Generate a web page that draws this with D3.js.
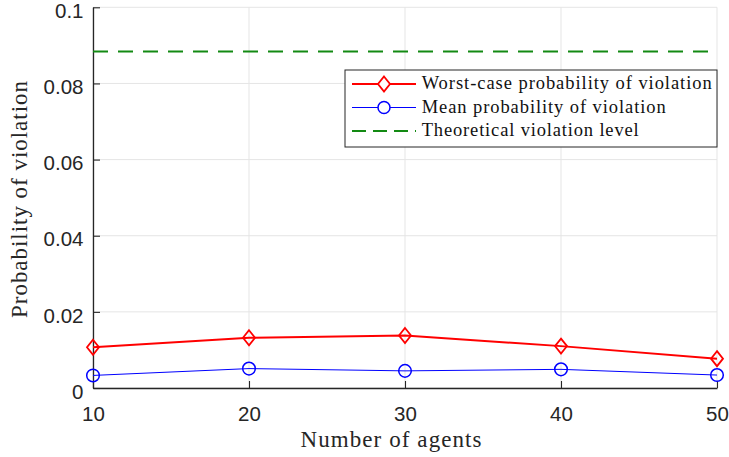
<!DOCTYPE html>
<html>
<head>
<meta charset="utf-8">
<script src="https://cdn.jsdelivr.net/npm/d3@7"></script>
<style>
  html, body { margin: 0; padding: 0; background: #fff; }
  svg { display: block; }
</style>
</head>
<body>
<svg id="chart" width="729" height="457"></svg>
<script>
// Data
const agents = [10, 20, 30, 40, 50];
const worstCase = [0.0107, 0.0132, 0.0138, 0.0110, 0.0077];
const meanProb = [0.0033, 0.0051, 0.0045, 0.0049, 0.0034];
const theoretical = 0.0884;
const xTicks = [10, 20, 30, 40, 50];
const yTicks = [0, 0.02, 0.04, 0.06, 0.08, 0.1];
const yTickLabels = ["0", "0.02", "0.04", "0.06", "0.08", "0.1"];
const legendLabels = ["Worst-case probability of violation", "Mean probability of violation", "Theoretical violation level"];
const legendWidths = [290, 244, 217];

const svg = d3.select("#chart");
const m = { left: 93, right: 12, top: 7.3, bottom: 69 };
const W = 729, H = 457;
const x = d3.scaleLinear().domain([10, 50]).range([m.left, W - m.right]);
const y = d3.scaleLinear().domain([0, 0.1]).range([H - m.bottom, m.top]);

const axisColor = "#262626";
const gridColor = "#e5e5e5";
const tickFont = "'Liberation Sans', Arial, Helvetica, sans-serif";
const serif = "'Liberation Serif', 'Times New Roman', serif";

// Grid
const grid = svg.append("g");
grid.selectAll("line.gx").data(xTicks).join("line")
  .attr("x1", d => x(d)).attr("x2", d => x(d))
  .attr("y1", y(0)).attr("y2", y(0.1))
  .attr("stroke", gridColor).attr("stroke-width", 1);
grid.selectAll("line.gy").data(yTicks).join("line")
  .attr("x1", x(10)).attr("x2", x(50))
  .attr("y1", d => y(d)).attr("y2", d => y(d))
  .attr("stroke", gridColor).attr("stroke-width", 1);

// Axes
const xAxis = d3.axisBottom(x).tickValues(xTicks).tickSizeInner(-7).tickSizeOuter(0).tickPadding(18);
const yAxis = d3.axisLeft(y).tickValues(yTicks).tickSizeInner(-7).tickSizeOuter(0).tickPadding(9.5)
  .tickFormat((d, i) => yTickLabels[i]);

const gx = svg.append("g").attr("transform", `translate(0,${y(0)})`).call(xAxis);
const gy = svg.append("g").attr("transform", `translate(${x(10)},0)`).call(yAxis);
[gx, gy].forEach(g => {
  g.select(".domain").attr("stroke", axisColor).attr("stroke-width", 1.3);
  g.selectAll(".tick line").attr("stroke", axisColor).attr("stroke-width", 1.1);
  g.selectAll(".tick text").attr("fill", axisColor).style("font-family", tickFont).style("font-size", "20.5px");
});
gy.selectAll(".tick text").attr("dy", "0.5em");

// Theoretical level
svg.append("line")
  .attr("x1", x(10)).attr("x2", x(50))
  .attr("y1", y(theoretical)).attr("y2", y(theoretical))
  .attr("stroke", "#138a13").attr("stroke-width", 2).attr("stroke-dasharray", "15,10");

// Series
const line = vals => d3.line().x((d, i) => x(agents[i])).y(d => y(d))(vals);
svg.append("path").attr("d", line(meanProb)).attr("fill", "none").attr("stroke", "#0000ff").attr("stroke-width", 1);
svg.append("path").attr("d", line(worstCase)).attr("fill", "none").attr("stroke", "#ff0000").attr("stroke-width", 2);

const diamond = (cx, cy, w, h) => `M${cx},${cy - h}L${cx + w},${cy}L${cx},${cy + h}L${cx - w},${cy}Z`;
svg.selectAll("path.wc").data(worstCase).join("path")
  .attr("d", (d, i) => diamond(x(agents[i]), y(d), 6, 7.5))
  .attr("fill", "none").attr("stroke", "#ff0000").attr("stroke-width", 1.8);
svg.selectAll("circle.mp").data(meanProb).join("circle")
  .attr("cx", (d, i) => x(agents[i])).attr("cy", d => y(d)).attr("r", 6.3)
  .attr("fill", "none").attr("stroke", "#0000ff").attr("stroke-width", 1.5);

// Axis titles
svg.append("text").attr("x", 391).attr("y", 446.5)
  .attr("text-anchor", "middle").style("font-family", serif).style("font-size", "23px").attr("fill", axisColor)
  .attr("textLength", 181).attr("lengthAdjust", "spacing")
  .text("Number of agents");
svg.append("text").attr("transform", `translate(27,199.5) rotate(-90)`)
  .attr("text-anchor", "middle").style("font-family", serif).style("font-size", "23px").attr("fill", axisColor)
  .attr("textLength", 237).attr("lengthAdjust", "spacing")
  .text("Probability of violation");

// Legend
const lg = svg.append("g");
lg.append("rect").attr("x", 345).attr("y", 70).attr("width", 372).attr("height", 77)
  .attr("fill", "#fff").attr("stroke", axisColor).attr("stroke-width", 1);
const rowsY = [84, 107.5, 131];
const styles = [
  { c: "#ff0000", w: 2, dash: null, mk: "d" },
  { c: "#0000ff", w: 1, dash: null, mk: "o" },
  { c: "#138a13", w: 2, dash: "14,7", mk: null }
];
legendLabels.forEach((lab, i) => {
  const s = styles[i], yy = rowsY[i];
  lg.append("line").attr("x1", 352).attr("x2", 416).attr("y1", yy).attr("y2", yy)
    .attr("stroke", s.c).attr("stroke-width", s.w).attr("stroke-dasharray", s.dash);
  if (s.mk === "d") lg.append("path").attr("d", diamond(384, yy, 6, 7.5)).attr("fill", "#fff").attr("stroke", s.c).attr("stroke-width", 1.8);
  if (s.mk === "o") lg.append("circle").attr("cx", 384).attr("cy", yy).attr("r", 6).attr("fill", "#fff").attr("stroke", s.c).attr("stroke-width", 1.5);
  lg.append("text").attr("x", 421.7).attr("y", yy + 5.3).style("font-family", serif).style("font-size", "18.5px")
    .attr("textLength", legendWidths[i]).attr("lengthAdjust", "spacing")
    .attr("fill", "#111").text(lab);
});
</script>
</body>
</html>
